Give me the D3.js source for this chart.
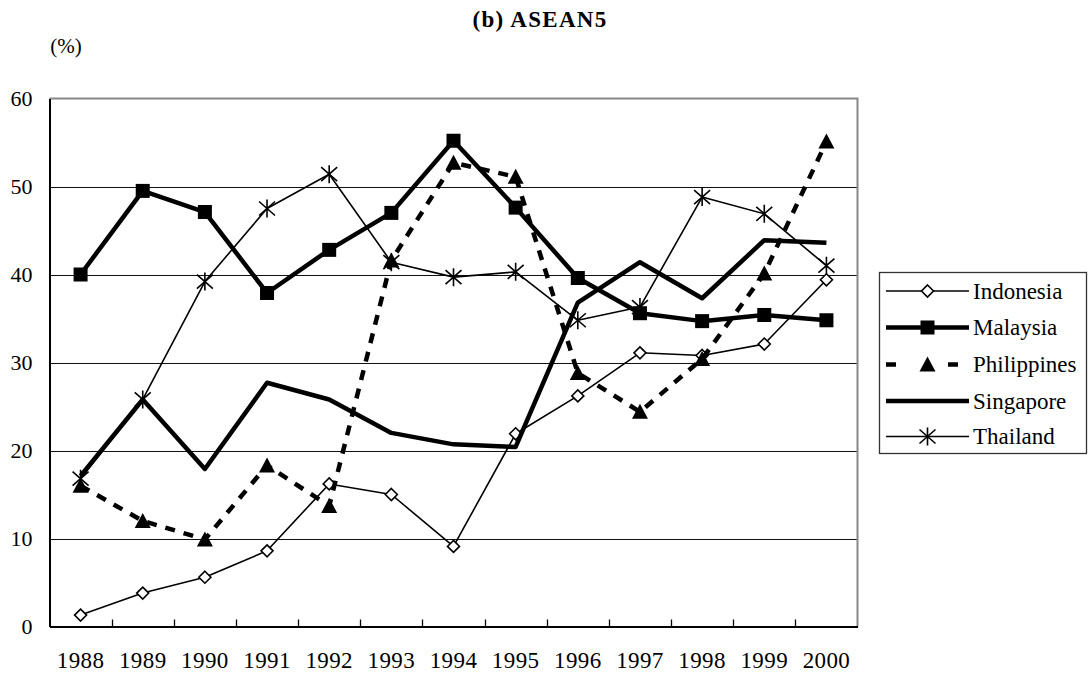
<!DOCTYPE html>
<html>
<head>
<meta charset="utf-8">
<script src="https://cdn.jsdelivr.net/npm/d3@7"></script>
<style>
  body { margin: 0; background: #fff; }
  svg text { font-family: "Liberation Serif", "Times New Roman", Times, serif; fill: #000; }
</style>
</head>
<body>
<div id="chart"></div>
<script>
// Chart data
const YEARS = ["1988", "1989", "1990", "1991", "1992", "1993", "1994",
               "1995", "1996", "1997", "1998", "1999", "2000"];
const INDONESIA   = [1.3, 3.8, 5.6, 8.6, 16.2, 15.0, 9.1, 21.9, 26.2, 31.1, 30.8, 32.1, 39.4];
const MALAYSIA    = [40.0, 49.5, 47.1, 37.9, 42.8, 47.0, 55.2, 47.6, 39.6, 35.6, 34.7, 35.4, 34.8];
const PHILIPPINES = [16.0, 12.0, 9.9, 18.3, 13.7, 41.6, 52.7, 51.1, 28.8, 24.4, 30.4, 40.1, 55.1];
const SINGAPORE   = [17.1, 25.8, 17.9, 27.7, 25.8, 22.0, 20.7, 20.4, 36.8, 41.4, 37.3, 43.9, 43.6];
const THAILAND    = [16.8, 25.8, 39.2, 47.5, 51.4, 41.4, 39.7, 40.3, 34.8, 36.3, 48.8, 46.9, 41.0];
const Y_TICKS = [0, 10, 20, 30, 40, 50, 60];

const SERIES = [
    {name: "Indonesia",   values: INDONESIA,   width: 1.6, dash: null,   marker: "diamond"},
    {name: "Malaysia",    values: MALAYSIA,    width: 4.5, dash: null,   marker: "square"},
    {name: "Philippines", values: PHILIPPINES, width: 4.5, dash: "10,9", marker: "triangle"},
    {name: "Singapore",   values: SINGAPORE,   width: 4.5, dash: null,   marker: null},
    {name: "Thailand",    values: THAILAND,    width: 1.6, dash: null,   marker: "star"}
];

// Frame
const FRAME_WIDTH = 1088;
const FRAME_HEIGHT = 674;
const PLOT = {left: 49.5, right: 857.5, top: 98.5, bottom: 626.5};

const svg = d3.select("#chart")
    .append("svg")
      .attr("width", FRAME_WIDTH)
      .attr("height", FRAME_HEIGHT);

// Scales
const X = d3.scaleBand()
    .domain(YEARS)
    .range([PLOT.left, PLOT.right])
    .padding(0);

const Y = d3.scaleLinear()
    .domain([0, 60])
    .range([PLOT.bottom, PLOT.top]);

const cx = (i) => X(YEARS[i]) + X.bandwidth() / 2;

// Title and unit
svg.append("text")
    .attr("x", 540).attr("y", 27)
    .attr("text-anchor", "middle")
    .attr("font-size", "23px")
    .attr("font-weight", "bold")
    .attr("letter-spacing", "1.3px")
    .text("(b) ASEAN5");

svg.append("text")
    .attr("x", 66).attr("y", 53)
    .attr("text-anchor", "middle")
    .attr("font-size", "21px")
    .text("(%)");

// Gridlines
svg.append("g")
  .selectAll("line")
  .data(Y_TICKS.filter(d => d > 0 && d < 60))
  .enter()
  .append("line")
    .attr("x1", PLOT.left).attr("x2", PLOT.right)
    .attr("y1", d => Math.round(Y(d)) + 0.5)
    .attr("y2", d => Math.round(Y(d)) + 0.5)
    .attr("stroke", "#111")
    .attr("stroke-width", 1);

// Plot border: gray top/right
svg.append("path")
    .attr("d", `M${PLOT.left},${PLOT.top}H${PLOT.right}V${PLOT.bottom}`)
    .attr("fill", "none")
    .attr("stroke", "#888")
    .attr("stroke-width", 2);

// Y axis
const yAxis = svg.append("g")
    .attr("transform", `translate(${PLOT.left},0)`)
    .call(d3.axisLeft(Y).tickValues(Y_TICKS).tickSize(0).tickPadding(17));
yAxis.select(".domain").attr("stroke", "#000").attr("stroke-width", 2);
yAxis.selectAll("text")
    .attr("font-size", "22px");

// X axis: inward ticks on category boundaries
const xAxis = svg.append("g")
    .attr("transform", `translate(0,${PLOT.bottom})`)
    .call(d3.axisBottom(X).tickSize(0));
xAxis.select(".domain").attr("stroke", "#000").attr("stroke-width", 2);
xAxis.selectAll("text")
    .attr("y", 41)
    .attr("dy", 0)
    .attr("font-size", "23px")
    .attr("letter-spacing", "0.4px");

svg.append("g")
  .selectAll("line")
  .data(YEARS.slice(1))
  .enter()
  .append("line")
    .attr("x1", d => Math.round(X(d)) + 0.5)
    .attr("x2", d => Math.round(X(d)) + 0.5)
    .attr("y1", PLOT.bottom)
    .attr("y2", PLOT.bottom - 7)
    .attr("stroke", "#000")
    .attr("stroke-width", 1.3);

// Marker drawing helper
function drawMarker(g, type, x, y) {
    if (type === "diamond") {
        g.append("path")
            .attr("d", `M${x},${y - 6}L${x + 6},${y}L${x},${y + 6}L${x - 6},${y}Z`)
            .attr("fill", "#fff").attr("stroke", "#000").attr("stroke-width", 1.6);
    } else if (type === "square") {
        g.append("rect")
            .attr("x", x - 7).attr("y", y - 7)
            .attr("width", 14).attr("height", 14)
            .attr("fill", "#000");
    } else if (type === "triangle") {
        g.append("path")
            .attr("d", `M${x},${y - 8}L${x + 8},${y + 7}L${x - 8},${y + 7}Z`)
            .attr("fill", "#000");
    } else if (type === "star") {
        g.append("path")
            .attr("d", `M${x},${y - 9}V${y + 9}M${x - 8},${y - 7}L${x + 8},${y + 7}M${x - 8},${y + 7}L${x + 8},${y - 7}`)
            .attr("stroke", "#000").attr("stroke-width", 1.6).attr("fill", "none");
    }
}

// Series
const line = d3.line()
    .x((d, i) => cx(i))
    .y(d => Y(d));

SERIES.forEach((s) => {
    const g = svg.append("g");
    g.append("path")
        .datum(s.values)
        .attr("d", line)
        .attr("fill", "none")
        .attr("stroke", "#000")
        .attr("stroke-width", s.width)
        .attr("stroke-linejoin", "round")
        .attr("stroke-dasharray", s.dash);
    if (s.marker) {
        s.values.forEach((v, i) => drawMarker(g, s.marker, cx(i), Y(v)));
    }
});

// Legend
const LEG = {x: 879.5, y: 272.5, w: 207, h: 181};
svg.append("rect")
    .attr("x", LEG.x).attr("y", LEG.y)
    .attr("width", LEG.w).attr("height", LEG.h)
    .attr("fill", "#fff")
    .attr("stroke", "#333").attr("stroke-width", 1.3);

const legendRowY = [291, 327.5, 364.5, 401, 436.5];
SERIES.forEach((s, i) => {
    const g = svg.append("g");
    const y = legendRowY[i];
    g.append("line")
        .attr("x1", 886).attr("x2", 969)
        .attr("y1", y).attr("y2", y)
        .attr("stroke", "#000")
        .attr("stroke-width", s.width)
        .attr("stroke-dasharray", s.dash ? "10,52" : null);
    if (s.marker) drawMarker(g, s.marker, 927.5, y);
    g.append("text")
        .attr("x", 973).attr("y", y + 7.5)
        .attr("font-size", "23px")
        .text(s.name);
});
</script>
</body>
</html>
